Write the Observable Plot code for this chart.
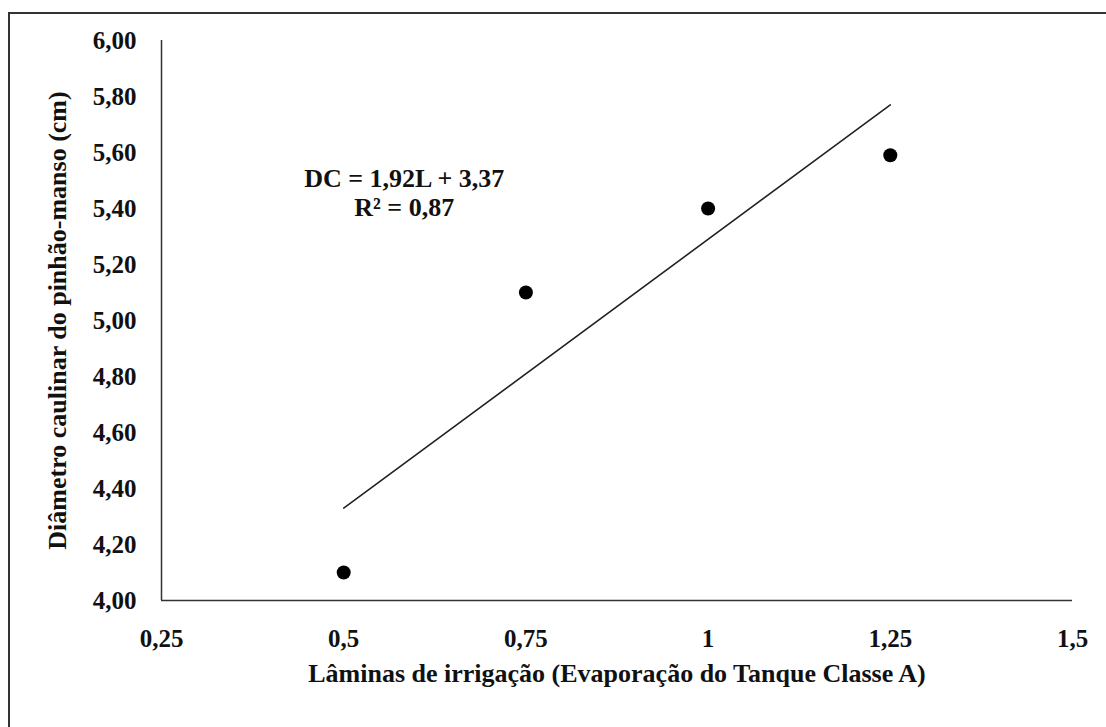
<!DOCTYPE html>
<html>
<head>
<meta charset="utf-8">
<script src="https://cdn.jsdelivr.net/npm/d3@7"></script>
<script src="https://cdn.jsdelivr.net/npm/@observablehq/plot@0.6"></script>
<style>
  html, body { margin: 0; padding: 0; background: #fff; }
  #wrap { position: relative; width: 1106px; height: 727px; overflow: hidden; }
  #border { position: absolute; left: 8px; top: 12px; width: 1200px; height: 800px;
            border-left: 2px solid #333; border-top: 2px solid #333; box-sizing: border-box; }
  #chart { position: absolute; left: 0; top: 0; }
</style>
</head>
<body>
<div id="wrap"><div id="border"></div><div id="chart"></div></div>
<script>
// Data
const laminas = [0.5, 0.75, 1.0, 1.25];
const diametro = [4.10, 5.10, 5.40, 5.59];
// Fitted regression line: DC = 1.92 L + 3.37
const slope = 1.92;
const intercept = 3.37;
const fitX = [0.5, 1.25];
const xTicks = [0.25, 0.5, 0.75, 1, 1.25, 1.5];
const yTicks = [4.0, 4.2, 4.4, 4.6, 4.8, 5.0, 5.2, 5.4, 5.6, 5.8, 6.0];
const xLabel = "Lâminas de irrigação (Evaporação do Tanque Classe A)";
const yLabel = "Diâmetro caulinar do pinhão-manso (cm)";
const eqLine1 = "DC = 1,92L + 3,37";
const eqLine2 = "R² = 0,87";
const eqPos = {x: 0.583, y1: 5.507, y2: 5.404};

const points = laminas.map((l, i) => ({l, d: diametro[i]}));
const fit = fitX.map(l => ({l, d: slope * l + intercept}));

const fmtY = v => d3.format(".2f")(v).replace(".", ",");
const fmtX = v => String(v).replace(".", ",");

const font = "'Liberation Serif', 'Times New Roman', serif";

const chart = Plot.plot({
  width: 1106,
  height: 727,
  marginLeft: 161,
  marginRight: 34,
  marginTop: 40,
  marginBottom: 127,
  style: {fontFamily: font, fontSize: "25px", fontWeight: "bold", color: "#111", background: "transparent"},
  x: {domain: [0.25, 1.5]},
  y: {domain: [4, 6]},
  marks: [
    Plot.axisX({ticks: xTicks, tickFormat: fmtX, tickSize: 0, tickPadding: 29, label: null, fontSize: 25, fontWeight: "bold"}),
    Plot.axisY({ticks: yTicks, tickFormat: fmtY, tickSize: 0, tickPadding: 25, label: null, fontSize: 25, fontWeight: "bold"}),
    Plot.ruleY([4], {stroke: "#333", strokeWidth: 1.5}),
    Plot.ruleX([0.25], {stroke: "#333", strokeWidth: 1.5}),
    Plot.line(fit, {x: "l", y: "d", stroke: "#222", strokeWidth: 1.6}),
    Plot.dot(points, {x: "l", y: "d", r: 7, fill: "#000", stroke: "none"}),
    Plot.text([eqLine1], {x: eqPos.x, y: eqPos.y1, text: d => d, fontSize: 26, fontWeight: "bold", fill: "#111"}),
    Plot.text([eqLine2], {x: eqPos.x, y: eqPos.y2, text: d => d, fontSize: 26, fontWeight: "bold", fill: "#111"}),
    Plot.text([xLabel], {frameAnchor: "bottom", dy: 73, textAnchor: "middle", lineAnchor: "middle", text: d => d, fontSize: 26, fontWeight: "bold", fill: "#111"}),
    Plot.text([yLabel], {frameAnchor: "left", dx: -104, rotate: -90, textAnchor: "middle", lineAnchor: "middle", text: d => d, fontSize: 26, fontWeight: "bold", fill: "#111"})
  ]
});
document.getElementById("chart").appendChild(chart);
</script>
</body>
</html>
